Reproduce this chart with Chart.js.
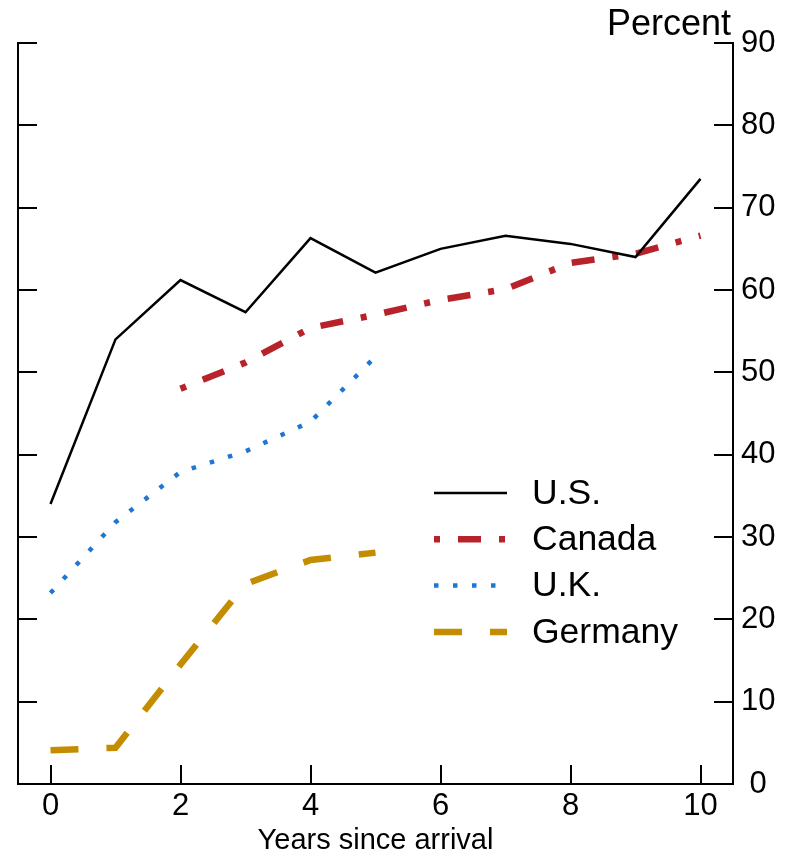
<!DOCTYPE html>
<html>
<head>
<meta charset="utf-8">
<script src="https://cdn.jsdelivr.net/npm/chart.js@4"></script>
<style>
  body { margin: 0; background: #fff; }
  #wrap { width: 792px; height: 855px; }
</style>
</head>
<body>
<div id="wrap"><canvas id="myChart" width="792" height="855"></canvas></div>
<script>
const years = [0, 1, 2, 3, 4, 5, 6, 7, 8, 9, 10];
const usValues = [34.0, 54.0, 61.2, 57.3, 66.3, 62.1, 65.0, 66.6, 65.6, 64.0, 73.5];
const canadaValues = [null, null, 48.0, 51.2, 55.4, 57.0, 58.8, 60.1, 63.3, 64.4, 66.6];
const ukValues = [23.2, 31.8, 37.9, 40.4, 44.0, 51.9, null, null, null, null, null];
const germanyValues = [4.1, 4.4, 14.5, 24.3, 27.2, 28.1, null, null, null, null, null];
const xTickValues = [0, 2, 4, 6, 8, 10];
const yTickValues = [0, 10, 20, 30, 40, 50, 60, 70, 80, 90];

const FONT = '"Liberation Sans", Arial, Helvetica, sans-serif';

function toPoints(values) {
  return values
    .map((v, i) => ({ x: years[i], y: v }))
    .filter(p => p.y !== null);
}

const series = [
  { label: 'U.S.', data: usValues, color: '#000000', width: 2.5, dash: [] },
  { label: 'Canada', data: canadaValues, color: '#B8232B', width: 6.5, dash: [6, 18, 23, 18] },
  { label: 'U.K.', data: ukValues, color: '#1E78D2', width: 4.5, dash: [4.5, 14.5] },
  { label: 'Germany', data: germanyValues, color: '#C48C00', width: 6.5, dash: [28, 28] }
];

// inward tick marks on the three axes
const inwardTicks = {
  id: 'inwardTicks',
  afterDatasetsDraw(chart) {
    const ctx = chart.ctx;
    const area = chart.chartArea;
    const len = 19;
    ctx.save();
    ctx.strokeStyle = '#000';
    ctx.lineWidth = 2;
    ctx.beginPath();
    chart.scales.x.ticks.forEach(t => {
      const px = Math.round(chart.scales.x.getPixelForValue(t.value));
      ctx.moveTo(px, area.bottom);
      ctx.lineTo(px, area.bottom - len);
    });
    chart.scales.y.ticks.forEach(t => {
      const py = Math.round(chart.scales.y.getPixelForValue(t.value));
      ctx.moveTo(area.right, py);
      ctx.lineTo(area.right - len, py);
    });
    chart.scales.yLeft.ticks.forEach(t => {
      const py = Math.round(chart.scales.yLeft.getPixelForValue(t.value));
      ctx.moveTo(area.left, py);
      ctx.lineTo(area.left + len, py);
    });
    ctx.stroke();
    ctx.restore();
  }
};

// "Percent" label and the in-plot legend
const extras = {
  id: 'extras',
  afterDraw(chart) {
    const ctx = chart.ctx;
    const area = chart.chartArea;
    ctx.save();
    ctx.fillStyle = '#000';
    ctx.font = '36px ' + FONT;
    ctx.textAlign = 'right';
    ctx.textBaseline = 'alphabetic';
    ctx.fillText('Percent', area.right - 2, 35);

    ctx.font = '35.5px ' + FONT;
    const x0 = 434, x1 = 507, tx = 532;
    let y = 493;
    series.forEach(s => {
      ctx.beginPath();
      ctx.strokeStyle = s.color;
      ctx.lineWidth = s.width;
      ctx.setLineDash(s.dash);
      ctx.moveTo(x0, y);
      ctx.lineTo(x1, y);
      ctx.stroke();
      ctx.setLineDash([]);
      ctx.fillStyle = '#000';
      ctx.textAlign = 'left';
      ctx.textBaseline = 'middle';
      ctx.fillText(s.label, tx, y + 1);
      y += 46.3;
    });
    ctx.restore();
  }
};

const ctx = document.getElementById('myChart').getContext('2d');
new Chart(ctx, {
  type: 'line',
  data: {
    datasets: series.map(s => ({
      label: s.label,
      data: toPoints(s.data),
      borderColor: s.color,
      backgroundColor: s.color,
      borderWidth: s.width,
      borderDash: s.dash,
      pointRadius: 0,
      tension: 0,
      fill: false
    }))
  },
  options: {
    responsive: false,
    animation: false,
    layout: { padding: { left: 18, top: 43, right: 0, bottom: 0 } },
    plugins: {
      legend: { display: false },
      tooltip: { enabled: false }
    },
    scales: {
      x: {
        type: 'linear',
        min: -0.5,
        max: 10.5,
        afterBuildTicks: s => { s.ticks = xTickValues.map(v => ({ value: v })); },
        afterFit: s => { s.height = 71; },
        grid: { display: false, drawTicks: false },
        border: { display: true, color: '#000', width: 2 },
        ticks: { color: '#000', font: { family: FONT, size: 31 }, padding: 4, maxRotation: 0 },
        title: { display: true, text: 'Years since arrival', color: '#000', font: { family: FONT, size: 29, lineHeight: 1.0 }, padding: { top: 1, bottom: 0 } }
      },
      y: {
        position: 'right',
        min: 0,
        max: 90,
        afterBuildTicks: s => { s.ticks = yTickValues.map(v => ({ value: v })); },
        afterFit: s => { s.width = 59; },
        grid: { display: false, drawTicks: false },
        border: { display: true, color: '#000', width: 2 },
        ticks: { color: '#000', font: { family: FONT, size: 31 }, padding: 8, crossAlign: 'center' }
      },
      yLeft: {
        position: 'left',
        min: 0,
        max: 90,
        afterBuildTicks: s => { s.ticks = yTickValues.map(v => ({ value: v })); },
        afterFit: s => { s.width = 0; },
        grid: { display: false, drawTicks: false },
        border: { display: true, color: '#000', width: 2 },
        ticks: { display: false }
      }
    }
  },
  plugins: [inwardTicks, extras]
});
</script>
</body>
</html>
